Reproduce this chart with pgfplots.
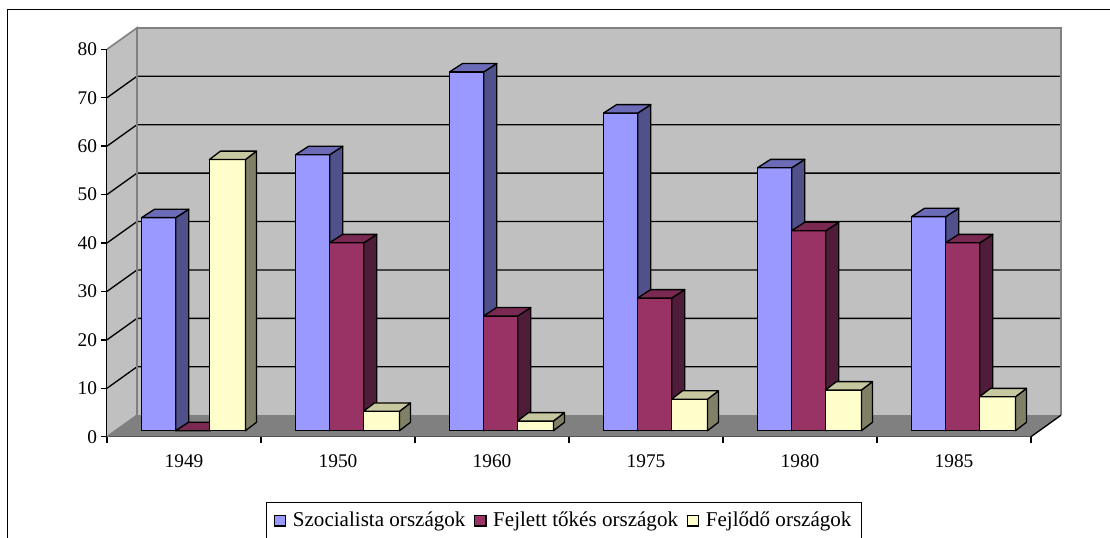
\documentclass[border=0pt]{standalone}
\usepackage{pgfplots}
\usepackage{pgfplotstable}
\usepackage{fontspec}
\setmainfont{Liberation Serif}
\pgfplotsset{compat=1.18}
% x = middle of the category; v = read value
\pgfplotstableread{
x v
0.5 44
1.5 57
2.5 74.1
3.5 65.6
4.5 54.3
5.5 44.2
}\szoc
\pgfplotstableread{
x v
0.5 0
1.5 38.8
2.5 23.7
3.5 27.4
4.5 41.3
5.5 38.8
}\fejlett
\pgfplotstableread{
x v
0.5 56
1.5 4
2.5 2
3.5 6.5
4.5 8.4
5.5 7
}\fejlodo
\definecolor{wallgray}{HTML}{C0C0C0}
\definecolor{floorgray}{HTML}{808080}
\definecolor{blueF}{HTML}{9999FF}\definecolor{blueT}{HTML}{6B6BB8}\definecolor{blueS}{HTML}{50508A}
\definecolor{marF}{HTML}{993366}\definecolor{marT}{HTML}{7A2952}\definecolor{marS}{HTML}{4F1C3A}
\definecolor{yelF}{HTML}{FFFFCC}\definecolor{yelT}{HTML}{C8C8A0}\definecolor{yelS}{HTML}{808066}
% #1 centre offset, #2 width, #3 depth dx, #4 side colour, #5 top colour (all in pt)
\pgfplotsset{depthfaces/.style n args={5}{
  scatter, only marks, mark=*, mark size=0pt, mark options={draw=none,fill=none},
  visualization depends on={\thisrow{v} \as \val},
  scatter/@pre marker code/.code={%
    \pgfmathsetmacro\hh{\val*3.632}%
    \pgfmathsetmacro\LL{#1-#2/2}\pgfmathsetmacro\RR{#1+#2/2}%
    \pgfmathsetmacro\BB{\RR+#3}\pgfmathsetmacro\AA{\LL+#3}%
    \pgfmathsetmacro\DD{6.3-\hh}\pgfmathsetmacro\MM{-\hh}%
    \filldraw[fill=#4,draw=black,line width=1pt,line join=round]
      (\RR pt,0pt)--(\BB pt,6.3pt)--(\BB pt,\DD pt)--(\RR pt,\MM pt)--cycle;
    \filldraw[fill=#5,draw=black,line width=1pt,line join=round]
      (\LL pt,0pt)--(\AA pt,6.3pt)--(\BB pt,6.3pt)--(\RR pt,0pt)--cycle;
    \scope},
  scatter/@post marker code/.code={\endscope}%
},
baraxis/.style={
  at={(80.25pt,80.475pt)}, anchor=origin, scale only axis,
  width=693pt, height=290.55pt,
  xmin=0, xmax=6, ymin=0, ymax=80, clip=false, hide axis}
}
\begin{document}
\begin{tikzpicture}
\path[use as bounding box] (0,0) rectangle (832.5pt,403.5pt);
\draw[black,line width=1.2pt] (5.6pt,0pt)--(5.6pt,396.5pt)--(832.5pt,396.5pt);
% ---- walls, floor, scale
\begin{axis}[
  at={(80.25pt,75.975pt)}, anchor=origin, scale only axis,
  width=693pt, height=290.55pt,
  xmin=0, xmax=6, ymin=0, ymax=80, clip=false,
  axis x line=bottom, axis y line=left,
  axis line style={-,black,line width=1pt},
  xtick={0.5,1.5,2.5,3.5,4.5,5.5},
  xticklabels={1949,1950,1960,1975,1980,1985},
  minor xtick={0,1,2,3,4,5,6},
  ytick={0,10,...,80},
  tick align=outside, tickwidth=4.5pt, subtickwidth=4.5pt,
  major x tick style={draw=none},
  minor x tick style={black,line width=1pt},
  major y tick style={black,line width=1pt},
  tick label style={font=\fontsize{14.5}{16}\selectfont},
  /pgf/number format/assume math mode=true,
  xticklabel style={yshift=-5.5pt},
  yticklabel style={xshift=0.5pt},
  legend style={at={(axis description cs:0.4946,-0.2165)},anchor=center,
    draw=black,line width=1pt,legend columns=3,
    font=\fontsize{15.8}{17}\selectfont,
    inner xsep=5.5pt,inner ysep=5.5pt,
    /tikz/every odd column/.append style={column sep=3pt},
    /tikz/every even column/.append style={column sep=4.5pt}},
]
\fill[wallgray] (axis cs:0,0)--(axis cs:0,80)--([xshift=22.5pt,yshift=16.1pt]axis cs:0,80)--([xshift=22.5pt,yshift=16.1pt]axis cs:6,80)--([xshift=22.5pt,yshift=16.1pt]axis cs:6,0)--([xshift=22.5pt,yshift=16.1pt]axis cs:0,0)--cycle;
\fill[floorgray] (axis cs:0,0)--(axis cs:6,0)--([xshift=22.5pt,yshift=16.1pt]axis cs:6,0)--([xshift=22.5pt,yshift=16.1pt]axis cs:0,0)--cycle;
\pgfplotsinvokeforeach{10,20,30,40,50,60,70}{
  \draw[black,line width=1pt] (axis cs:0,#1)--([xshift=22.5pt,yshift=16.1pt]axis cs:0,#1)--([xshift=22.5pt,yshift=16.1pt]axis cs:6,#1);
}
\draw[floorgray,line width=1.2pt] (axis cs:0,0)--([xshift=22.5pt,yshift=16.1pt]axis cs:0,0)--([xshift=22.5pt,yshift=16.1pt]axis cs:0,80)--(axis cs:0,80);
\draw[floorgray,line width=1.2pt] ([xshift=22.5pt,yshift=16.1pt]axis cs:0,80)--([xshift=22.5pt,yshift=16.1pt]axis cs:6,80)--([xshift=22.5pt,yshift=16.1pt]axis cs:6,0);
\draw[black,line width=1pt] (axis cs:6,0)--([xshift=22.5pt,yshift=16.1pt]axis cs:6,0);
\addlegendimage{legend image code/.code={\draw[black,fill=blueF,line width=.9pt] (0pt,-4.1pt) rectangle (8.4pt,4.1pt);}}
\addlegendentry{Szocialista országok}
\addlegendimage{legend image code/.code={\draw[black,fill=marF,line width=.9pt] (0pt,-4.1pt) rectangle (8.4pt,4.1pt);}}
\addlegendentry{Fejlett tőkés országok}
\addlegendimage{legend image code/.code={\draw[black,fill=yelF,line width=.9pt] (0pt,-4.1pt) rectangle (8.4pt,4.1pt);}}
\addlegendentry{Fejlődő országok}
\end{axis}
% ---- bars: one axis per series, so each series is painted over the one before
\begin{axis}[baraxis]
\addplot[depthfaces={-18.98}{25.65}{9.75}{blueS}{blueT}] table[x=x,y=v] {\szoc};
\addplot[ybar,bar width=25.65pt,bar shift=-18.98pt,fill=blueF,draw=black,line width=1pt] table[x=x,y=v] {\szoc};
\end{axis}
\begin{axis}[baraxis]
\addplot[depthfaces={6.53}{25.65}{9.75}{marS}{marT}] table[x=x,y=v] {\fejlett};
\addplot[ybar,bar width=25.65pt,bar shift=6.53pt,fill=marF,draw=black,line width=1pt] table[x=x,y=v] {\fejlett};
\end{axis}
\begin{axis}[baraxis]
\addplot[depthfaces={32.6}{27}{8.25}{yelS}{yelT}] table[x=x,y=v] {\fejlodo};
\addplot[ybar,bar width=27pt,bar shift=32.6pt,fill=yelF,draw=black,line width=1pt] table[x=x,y=v] {\fejlodo};
\end{axis}
\end{tikzpicture}
\end{document}
